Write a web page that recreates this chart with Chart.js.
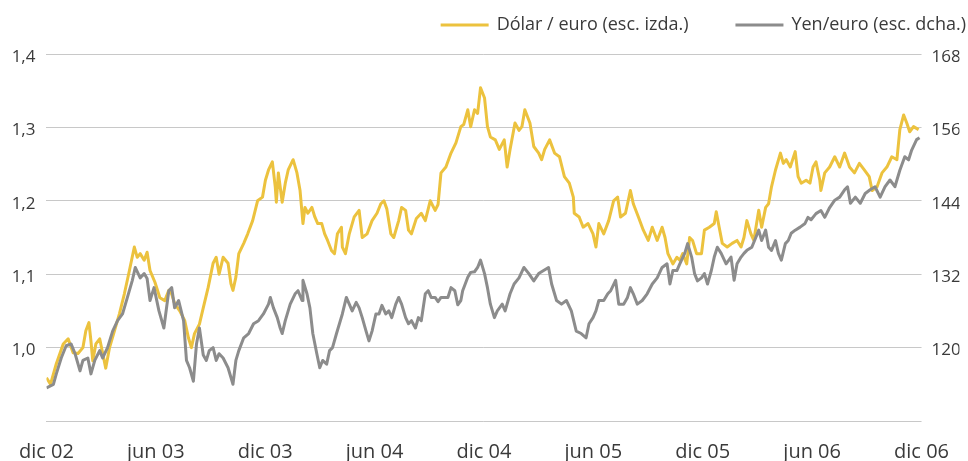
<!DOCTYPE html>
<html>
<head>
<meta charset="utf-8">
<script src="https://cdn.jsdelivr.net/npm/chart.js@4/dist/chart.umd.min.js"></script>
<style>
  html, body { margin: 0; padding: 0; background: #ffffff; }
  #wrap { width: 968px; height: 461px; }
</style>
</head>
<body>
<div id="wrap"><canvas id="grafico" width="968" height="461"></canvas></div>
<script>
// meses transcurridos desde dic 02
const tickLabels = ['dic 02', 'jun 03', 'dic 03', 'jun 04', 'dic 04', 'jun 05', 'dic 05', 'jun 06', 'dic 06'];
const seriesNames = ['Dólar / euro (esc. izda.)', 'Yen/euro (esc. dcha.)'];

const usdMonths = [
  0.00,0.22,0.54,0.92,1.19,1.46,1.73,2.00,2.16,2.33,
  2.44,2.54,2.71,2.92,3.08,3.25,3.46,3.73,4.00,4.27,
  4.55,4.82,4.98,5.14,5.36,5.52,5.68,5.95,6.22,6.49,
  6.71,6.87,7.03,7.31,7.58,7.79,7.95,8.12,8.39,8.60,
  8.87,9.14,9.31,9.47,9.69,9.96,10.12,10.23,10.39,10.55,
  10.82,11.04,11.31,11.58,11.85,12.01,12.18,12.39,12.55,12.61,
  12.72,12.93,13.10,13.26,13.53,13.74,13.91,14.07,14.18,14.34,
  14.56,14.72,14.88,15.10,15.26,15.42,15.64,15.80,15.96,16.18,
  16.23,16.40,16.61,16.88,17.15,17.32,17.59,17.86,18.13,18.34,
  18.51,18.67,18.89,19.05,19.32,19.48,19.70,19.86,20.02,20.29,
  20.56,20.78,21.05,21.32,21.48,21.64,21.91,22.19,22.46,22.73,
  22.89,23.11,23.27,23.48,23.65,23.81,24.03,24.19,24.35,24.62,
  24.84,25.11,25.27,25.43,25.70,25.92,26.08,26.24,26.52,26.73,
  27.00,27.16,27.33,27.60,27.87,28.14,28.41,28.68,28.90,28.95,
  29.22,29.44,29.71,29.98,30.14,30.30,30.57,30.84,31.11,31.33,
  31.49,31.76,32.03,32.19,32.47,32.74,33.01,33.23,33.50,33.77,
  33.93,34.09,34.36,34.58,34.74,34.90,35.12,35.28,35.44,35.66,
  35.93,36.09,36.36,36.63,36.74,36.90,37.07,37.34,37.61,37.88,
  38.10,38.26,38.42,38.64,38.80,39.07,39.23,39.45,39.61,39.77,
  39.99,40.26,40.42,40.58,40.80,41.07,41.23,41.40,41.67,41.88,
  42.05,42.21,42.42,42.48,42.69,42.96,43.24,43.51,43.78,44.05,
  44.32,44.59,44.86,45.13,45.29,45.56,45.83,46.10,46.37,46.65,
  46.81,47.02,47.19,47.35,47.56,47.84
];
const usdValues = [
  0.959,0.950,0.978,1.005,1.012,0.993,0.992,1.000,1.023,1.034,
  1.009,0.982,1.005,1.012,0.993,0.972,1.000,1.023,1.046,1.073,
  1.105,1.137,1.123,1.128,1.119,1.130,1.105,1.089,1.068,1.064,
  1.078,1.073,1.060,1.050,1.037,1.013,1.000,1.019,1.032,1.054,
  1.082,1.115,1.123,1.100,1.123,1.115,1.087,1.078,1.096,1.128,
  1.142,1.155,1.173,1.200,1.205,1.228,1.242,1.253,1.219,1.198,
  1.238,1.198,1.224,1.242,1.256,1.238,1.214,1.169,1.191,1.183,
  1.191,1.178,1.169,1.169,1.155,1.146,1.132,1.128,1.155,1.164,
  1.137,1.128,1.155,1.178,1.187,1.150,1.155,1.173,1.183,1.196,
  1.200,1.189,1.155,1.150,1.173,1.191,1.187,1.160,1.155,1.176,
  1.183,1.173,1.200,1.187,1.195,1.238,1.246,1.265,1.279,1.301,
  1.304,1.324,1.301,1.324,1.319,1.354,1.340,1.301,1.287,1.283,
  1.270,1.283,1.246,1.270,1.306,1.296,1.301,1.324,1.306,1.274,
  1.265,1.256,1.270,1.283,1.265,1.260,1.233,1.224,1.205,1.183,
  1.178,1.164,1.169,1.155,1.137,1.169,1.155,1.173,1.200,1.205,
  1.178,1.183,1.214,1.196,1.178,1.160,1.146,1.164,1.146,1.164,
  1.150,1.128,1.114,1.123,1.119,1.128,1.114,1.150,1.146,1.128,
  1.128,1.160,1.164,1.169,1.185,1.164,1.142,1.137,1.142,1.146,
  1.137,1.150,1.173,1.155,1.146,1.187,1.164,1.191,1.196,1.219,
  1.242,1.265,1.251,1.256,1.246,1.267,1.233,1.224,1.228,1.224,
  1.246,1.253,1.228,1.214,1.238,1.246,1.260,1.246,1.265,1.246,
  1.238,1.251,1.242,1.233,1.214,1.219,1.238,1.246,1.260,1.256,
  1.297,1.317,1.306,1.294,1.301,1.297
];

const jpyMonths = [
  0.00,0.38,0.54,0.81,1.08,1.35,1.57,1.84,2.00,2.27,
  2.44,2.65,2.92,3.08,3.35,3.63,3.90,4.17,4.44,4.71,
  4.87,5.14,5.36,5.52,5.68,5.90,6.17,6.44,6.71,6.87,
  7.03,7.25,7.52,7.68,7.85,8.06,8.23,8.39,8.60,8.77,
  8.93,9.14,9.31,9.47,9.69,9.96,10.23,10.39,10.55,10.82,
  11.09,11.36,11.63,11.90,12.18,12.28,12.45,12.66,12.82,12.93,
  13.10,13.37,13.64,13.80,14.02,14.07,14.29,14.45,14.61,14.83,
  14.99,15.15,15.37,15.53,15.69,15.91,16.07,16.23,16.45,16.61,
  16.77,16.99,17.15,17.32,17.53,17.69,17.86,18.07,18.24,18.40,
  18.61,18.78,18.94,19.16,19.32,19.48,19.70,19.86,20.02,20.24,
  20.40,20.56,20.78,20.94,21.10,21.32,21.48,21.64,21.86,22.02,
  22.19,22.40,22.56,22.73,22.83,23.11,23.27,23.48,23.65,23.81,
  24.03,24.19,24.35,24.57,24.73,25.00,25.16,25.43,25.65,25.92,
  26.19,26.46,26.73,27.00,27.27,27.54,27.71,27.98,28.25,28.52,
  28.79,29.06,29.33,29.60,29.76,29.98,30.14,30.30,30.57,30.79,
  30.95,31.22,31.39,31.66,31.87,32.03,32.19,32.41,32.68,32.95,
  33.23,33.50,33.77,34.04,34.20,34.36,34.58,34.74,35.01,35.17,
  35.39,35.55,35.71,35.93,36.09,36.26,36.47,36.63,36.80,37.01,
  37.28,37.55,37.72,37.88,38.10,38.26,38.42,38.69,38.91,39.07,
  39.23,39.45,39.61,39.77,39.99,40.15,40.31,40.53,40.69,40.85,
  41.07,41.34,41.61,41.77,41.94,42.21,42.48,42.69,42.96,43.24,
  43.51,43.78,43.94,44.10,44.37,44.64,44.91,45.18,45.45,45.73,
  46.00,46.27,46.54,46.81,47.08,47.29,47.46,47.73,47.89
];
const jpyValues = [
  113.4,114.0,115.7,118.3,120.3,120.6,119.0,116.2,117.9,118.3,
  115.7,117.9,119.5,118.3,120.0,122.7,124.4,125.5,128.2,131.0,
  133.1,131.4,132.1,131.3,127.7,129.8,126.0,123.2,129.3,129.8,
  126.5,127.7,124.4,117.9,116.7,114.5,120.6,123.2,118.8,117.9,
  119.5,120.0,117.9,119.0,118.3,116.7,114.0,117.9,119.5,121.6,
  122.3,123.9,124.4,125.5,127.1,128.2,126.5,124.9,123.2,122.3,
  124.4,127.1,128.8,129.3,127.7,131.0,128.8,126.5,122.3,119.0,
  116.7,117.9,117.3,119.5,120.0,122.3,123.9,125.5,128.2,127.1,
  126.0,127.4,126.5,124.9,122.7,121.1,122.7,125.5,125.5,126.9,
  125.5,126.0,124.9,127.1,128.2,127.1,124.9,123.9,124.4,123.2,
  124.9,124.4,128.8,129.3,128.2,128.2,127.5,128.2,128.2,128.2,
  129.8,129.3,127.0,127.7,129.3,131.5,132.3,132.4,133.1,134.3,
  132.1,129.8,127.1,124.9,126.0,127.1,126.0,128.8,130.4,131.4,
  133.1,132.1,130.9,132.1,132.6,133.1,130.4,127.7,127.1,127.7,
  126.0,122.7,122.3,121.6,123.9,124.9,126.0,127.7,127.7,128.8,
  129.3,131.0,127.1,127.1,128.2,129.8,128.8,127.1,127.7,128.8,
  130.4,131.4,133.1,133.7,130.4,132.6,132.6,133.7,135.4,137.0,
  134.8,132.1,130.9,131.4,132.1,130.4,132.6,134.8,136.4,135.4,
  133.7,134.8,131.0,133.7,134.8,135.4,135.9,136.4,138.0,139.2,
  137.5,139.2,136.4,135.9,137.5,135.4,134.3,137.0,137.5,138.7,
  139.2,139.7,140.3,141.3,140.9,141.9,142.4,141.3,142.9,144.1,
  144.6,145.8,146.3,143.6,144.6,143.6,145.2,145.8,146.3,144.6,
  146.3,147.4,146.3,149.0,151.2,150.7,152.3,154.0,154.3
];

const amarillo = '#ECC23E';
const gris = '#8C8C8C';
const colorTexto = '#3A3A3A';

Chart.defaults.font.family = '"Open Sans", sans-serif';
Chart.defaults.color = colorTexto;

// leyenda dibujada a mano arriba a la derecha
const leyendaArriba = {
  id: 'leyendaArriba',
  afterDraw(chart) {
    const ctx = chart.ctx;
    ctx.save();
    ctx.font = '18px "Open Sans", sans-serif';
    ctx.textBaseline = 'middle';
    ctx.textAlign = 'left';
    const y = 25;
    let x = chart.width - 2;
    chart.data.datasets.slice().reverse().forEach(ds => {
      const w = ctx.measureText(ds.label).width;
      x -= w;
      ctx.fillStyle = colorTexto;
      ctx.fillText(ds.label, x, y);
      x -= 8;
      ctx.strokeStyle = ds.borderColor;
      ctx.lineWidth = 3;
      ctx.beginPath();
      ctx.moveTo(x - 48, y);
      ctx.lineTo(x, y);
      ctx.stroke();
      x -= 48 + 47;
    });
    ctx.restore();
  }
};

const ctx = document.getElementById('grafico').getContext('2d');
new Chart(ctx, {
  type: 'line',
  data: {
    datasets: [
      {
        label: seriesNames[0],
        data: usdMonths.map((m, i) => ({ x: m, y: usdValues[i] })),
        yAxisID: 'yIzq',
        borderColor: amarillo,
        borderWidth: 3,
        borderJoinStyle: 'round',
        pointRadius: 0,
        tension: 0,
        order: 1
      },
      {
        label: seriesNames[1],
        data: jpyMonths.map((m, i) => ({ x: m, y: jpyValues[i] })),
        yAxisID: 'yDer',
        borderColor: gris,
        borderWidth: 3,
        borderJoinStyle: 'round',
        pointRadius: 0,
        tension: 0,
        order: 0
      }
    ]
  },
  options: {
    responsive: false,
    animation: false,
    layout: { padding: { top: 54, left: 0, right: 0, bottom: 0 } },
    plugins: { legend: { display: false }, tooltip: { enabled: false } },
    scales: {
      x: {
        type: 'linear',
        min: 0,
        max: 48,
        grid: { display: false, drawTicks: false },
        border: { display: false },
        ticks: {
          stepSize: 6,
          padding: 19,
          maxRotation: 0,
          font: { size: 20 },
          callback: v => tickLabels[Math.round(v / 6)]
        },
        afterFit: s => { s.height = 40; }
      },
      yIzq: {
        position: 'left',
        min: 0.9,
        max: 1.4,
        grid: { color: '#C8C8C8', lineWidth: 1, drawTicks: false },
        border: { display: false },
        ticks: {
          stepSize: 0.1,
          padding: 11,
          labelOffset: 3,
          font: { size: 17 },
          callback: v => Math.abs(v - 0.9) < 1e-6 ? '' : v.toFixed(1).replace('.', ',')
        },
        afterFit: s => { s.width = 43; }
      },
      yDer: {
        position: 'right',
        min: 108,
        max: 168,
        grid: { display: false, drawTicks: false },
        border: { display: false },
        ticks: {
          stepSize: 12,
          padding: 10,
          labelOffset: 3,
          font: { size: 17 },
          callback: v => v === 108 ? '' : String(v)
        },
        afterFit: s => { s.width = 38; }
      }
    }
  },
  plugins: [leyendaArriba]
});
</script>
</body>
</html>
